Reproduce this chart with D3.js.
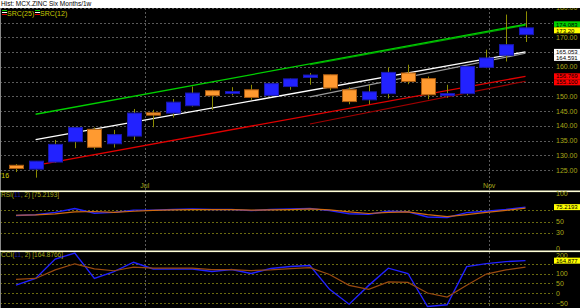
<!DOCTYPE html>
<html>
<head>
<meta charset="utf-8">
<script src="https://cdn.jsdelivr.net/npm/d3@7"></script>
<style>
body { margin: 0; background: #000; }
text { font-family: "Liberation Sans", Arial, sans-serif; }
</style>
</head>
<body>
<svg id="chart"></svg>
<script>
// weekly candles, MCX zinc
var weeks = ["2016-05-16","2016-05-23","2016-05-30","2016-06-06","2016-06-13","2016-06-20","2016-06-27",
  "2016-07-04","2016-07-11","2016-07-18","2016-07-25","2016-08-01","2016-08-08","2016-08-15","2016-08-22",
  "2016-08-29","2016-09-05","2016-09-12","2016-09-19","2016-09-26","2016-10-03","2016-10-10","2016-10-17",
  "2016-10-24","2016-10-31","2016-11-07","2016-11-14"];
var opens  = [126.6,125.3,127.7,134.6,138.8,133.9,136.5,144.4,144.3,146.8,151.9,151.0,152.2,150.3,153.3,156.4,157.3,152.2,148.8,150.9,157.9,156.0,150.3,150.9,159.8,163.9,170.9];
var highs  = [127.0,128.0,135.2,139.6,139.4,138.6,145.7,145.4,149.1,153.3,152.2,153.1,153.9,154.4,156.0,157.9,157.4,153.0,153.9,159.8,160.7,156.7,153.9,160.2,165.8,177.7,178.8];
var lows   = [124.3,122.4,127.5,132.4,132.0,132.6,135.2,139.5,142.8,146.5,145.4,150.3,148.8,150.0,152.2,153.9,152.0,147.3,147.3,149.3,154.1,149.0,149.5,150.3,159.5,161.8,168.4];
var closes = [125.5,128.0,133.7,139.4,132.7,137.0,144.3,143.6,148.0,151.1,150.2,151.6,149.6,154.3,155.9,157.2,152.8,148.2,151.5,158.1,155.0,150.5,150.9,160.1,163.0,167.5,173.2];

var rsiLine   = [60.5,61.8,66,72.7,64.5,66,70,70,71,72,71,71,69,71,72,72.7,69,63.6,62.7,68,67,58,57,65.5,68,71,75.2];
var rsiSignal = [61,61.5,63.5,67,67.5,66,68,69.5,70.5,71,71,71,70,70.5,71,72,70.5,67,64,66,67,62,58.5,62,66,69.5,73.5];
var cciLine   = [41,75,173,203,75,109,157,123,123,123,110,120,100,125,135,140,20,-55,40,127,100,-67,-58,135,150,160,164.9];
var cciSignal = [70,75,118,149,123,114,132,127,127,127,120,120,115,118,125,130,95,40,20,58,55,1.5,-19,41,97,118,132];

// regression channels: [start value, end value]
var src25Upper = [143.9, 174.4], src25Mid = [135.3, 165.05], src25Lower = [126.6, 156.77];
var src12Upper = [160.7, 174.1], src12Mid = [149.8, 164.591], src12Lower = [140.6, 155.1];
var src25Start = 1, src12Start = 15, srcEnd = 26;

var priceTicks = [125,130,135,140,145,150,155,160,165,170,175,180];
var rsiTicks = [0,30,50,70,100];
var cciTicks = [-50,0,50,100,150,200];
var monthDates = ["2016-07-01","2016-11-01"];
var monthNames = ["Jul","Nov"];

// last-value tags on the right axis
var tagTexts  = ["174.083", "173.20", "165.053", "164.591", "156.769", "155.100", "75.2193", "164.877"];
var tagValues = [174.4, 173.2, 165.05, 164.591, 156.77, 155.1, 75.2193, 164.877];
var tagPanels = ["p", "p", "p", "p", "p", "p", "r", "c"];
var tagColors = ["#00d000", "#ffff00", "#ffffff", "#ffffff", "#ff0000", "#ff0000", "#ffff00", "#ffff00"];

var width = 580, height = 308, plotRight = 553;
var parse = d3.timeParse("%Y-%m-%d");
var dates = weeks.map(parse);

var svg = d3.select("#chart").attr("width", width).attr("height", height);
svg.append("rect").attr("width", width).attr("height", height).attr("fill", "#000");

var x = d3.scaleTime().domain([dates[0], dates[dates.length - 1]]).range([16, 525.5]);
var y = d3.scaleLinear().domain([125, 180]).range([170, 7.8]);
var yr = d3.scaleLinear().domain([0, 100]).range([250, 193]);
var yc = d3.scaleLinear().domain([0, 200]).range([293.3, 253.7]);
var scales = { p: y, r: yr, c: yc };

var olive = "#a8a818";

// grids
function hgrid(scale, ticks, color) {
    svg.append("g").selectAll("line").data(ticks).enter().append("line")
        .attr("x1", 0).attr("x2", plotRight)
        .attr("y1", function(d) { return Math.round(scale(d)) + 0.5; })
        .attr("y2", function(d) { return Math.round(scale(d)) + 0.5; })
        .attr("stroke", color).attr("stroke-dasharray", "2,2");
}
hgrid(y, priceTicks, "#5a5a5a");
hgrid(yr, [30, 50, 70], "#6a6a10");
hgrid(yc, [-50, 0, 50, 100, 150], "#6a6a10");

svg.append("g").selectAll("line").data(monthDates).enter().append("line")
    .attr("x1", function(d) { return Math.round(x(parse(d))) + 0.5; })
    .attr("x2", function(d) { return Math.round(x(parse(d))) + 0.5; })
    .attr("y1", 8).attr("y2", height)
    .attr("stroke", "#5a5a5a").attr("stroke-dasharray", "2,2");

svg.append("line").attr("x1", 0.5).attr("x2", 0.5).attr("y1", 8).attr("y2", height).attr("stroke", "#888");

// regression channel lines
function srcLine(vals, start, color, w) {
    svg.append("line")
        .attr("x1", x(dates[start])).attr("y1", y(vals[0]))
        .attr("x2", x(dates[srcEnd])).attr("y2", y(vals[1]))
        .attr("stroke", color).attr("stroke-width", w);
}
srcLine(src12Upper, src12Start, "#00a000", 1.2);
srcLine(src12Mid, src12Start, "#9a9a9a", 1.2);
srcLine(src12Lower, src12Start, "#a00000", 1.2);
srcLine(src25Upper, src25Start, "#00d000", 1.3);
srcLine(src25Mid, src25Start, "#ffffff", 1.3);
srcLine(src25Lower, src25Start, "#e00000", 1.3);

// candles
var cw = 14;
var candles = svg.append("g").selectAll("g").data(dates).enter().append("g");
candles.append("line")
    .attr("x1", function(d) { return Math.round(x(d)) + 0.5; })
    .attr("x2", function(d) { return Math.round(x(d)) + 0.5; })
    .attr("y1", function(d, i) { return y(highs[i]); })
    .attr("y2", function(d, i) { return y(lows[i]); })
    .attr("stroke", "#8c8c00");
candles.append("rect")
    .attr("x", function(d) { return Math.round(x(d)) - cw / 2 + 0.5; })
    .attr("width", cw)
    .attr("y", function(d, i) { return y(Math.max(opens[i], closes[i])); })
    .attr("height", function(d, i) { return Math.max(2, Math.abs(y(opens[i]) - y(closes[i]))); })
    .attr("fill", function(d, i) { return closes[i] >= opens[i] ? "#2222ff" : "#ff9a30"; })
    .attr("stroke", function(d, i) { return closes[i] >= opens[i] ? "#1818b0" : "#a85a10"; })
    .attr("stroke-width", 1);

// indicator lines
function indLine(vals, scale, color, w) {
    var gen = d3.line().x(function(d, i) { return x(dates[i]); }).y(function(d) { return scale(d); });
    svg.append("path").datum(vals).attr("d", gen)
        .attr("fill", "none").attr("stroke", color).attr("stroke-width", w);
}
indLine(rsiLine, yr, "#2020ff", 1.4);
indLine(rsiSignal, yr, "#d06a10", 1.2);
indLine(cciLine, yc, "#2020ff", 1.4);
indLine(cciSignal, yc, "#9a4a10", 1.2);

// panel separators
[190.5, 250.5].forEach(function(py) {
    svg.append("rect").attr("x", 0).attr("y", py).attr("width", width).attr("height", 1.6).attr("fill", "#ffffd8");
});

// tag positions, stacked so neighbouring tags don't sit on top of each other
var tagY = tagValues.map(function(v, i) { return scales[tagPanels[i]](v) - 3; });
for (var i = 1; i < tagY.length; i++) {
    if (tagPanels[i] === tagPanels[i - 1] && tagY[i] - tagY[i - 1] < 6) tagY[i] = tagY[i - 1] + 6;
}

// right axis labels, skipping the ones a tag covers (as the original does)
function axisLabels(scale, ticks, fmt, panel, nudge) {
    var shown = ticks.filter(function(t) {
        var ty = scale(t);
        return !tagY.some(function(by, i) { return tagPanels[i] === panel && ty > by - 3 && ty < by + 9; });
    });
    svg.append("g").selectAll("text").data(shown).enter().append("text")
        .attr("x", 556).attr("y", function(d) { return scale(d) + 2.5 + (nudge[d] || 0); })
        .attr("font-size", 7).attr("fill", olive)
        .text(fmt);
}
axisLabels(y, priceTicks, d3.format(".2f"), "p", {});
axisLabels(yr, rsiTicks, d3.format("d"), "r", { 0: -1.5 });
axisLabels(yc, cciTicks, d3.format("d"), "c", { 200: 1.5 });

var tags = svg.append("g").selectAll("g").data(tagTexts).enter().append("g")
    .attr("transform", function(d, i) { return "translate(554," + tagY[i] + ")"; });
tags.append("rect").attr("width", 26).attr("height", 6)
    .attr("fill", function(d, i) { return tagColors[i]; });
tags.append("text").attr("x", 2).attr("y", 5.2).attr("font-size", 6).attr("fill", "#000")
    .text(function(d) { return d; });

// month labels
svg.append("g").selectAll("text").data(monthDates).enter().append("text")
    .attr("x", function(d) { return x(parse(d)); }).attr("y", 188)
    .attr("text-anchor", "middle").attr("font-size", 7).attr("fill", olive)
    .text(function(d, i) { return monthNames[i]; });
svg.append("text").attr("x", 0).attr("y", 178).attr("font-size", 7).attr("fill", "#d0d000").text("'16");

// title bar
svg.append("rect").attr("width", width).attr("height", 8).attr("fill", "#fff");
svg.append("text").attr("x", 1).attr("y", 6).attr("font-size", 6.5).attr("fill", "#000")
    .text("Hist: MCX.ZINC Six Months/1w");

// legend
[["SRC(25)", 2], ["SRC(12)", 35]].forEach(function(l) {
    var gx = l[1];
    ["#00d000", "#ffffff", "#e00000"].forEach(function(c, k) {
        svg.append("rect").attr("x", gx).attr("y", 10 + k * 2).attr("width", 5).attr("height", 1).attr("fill", c);
    });
    svg.append("text").attr("x", gx + 5).attr("y", 16).attr("font-size", 7).attr("fill", "#c8c800").text(l[0]);
});

// indicator captions
var rsiCap = svg.append("text").attr("x", 1).attr("y", 197).attr("font-size", 6.5).attr("fill", olive);
rsiCap.append("tspan").text("RSI(");
rsiCap.append("tspan").attr("fill", "#1a1aa0").text("11");
rsiCap.append("tspan").text(", 2) [75.2193]");
var cciCap = svg.append("text").attr("x", 1).attr("y", 257).attr("font-size", 6.5).attr("fill", olive);
cciCap.append("tspan").text("CCI(");
cciCap.append("tspan").attr("fill", "#1a1aa0").text("11");
cciCap.append("tspan").text(", 2) [164.8766]");
</script>
</body>
</html>
